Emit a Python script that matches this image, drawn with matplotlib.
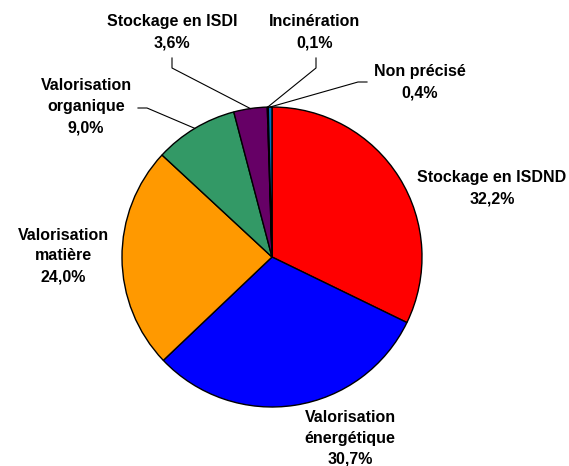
import numpy as np
import matplotlib
matplotlib.use("Agg")
import matplotlib.pyplot as plt

# Données
labels = ["Stockage en ISDND", "Valorisation\nénergétique", "Valorisation\nmatière",
          "Valorisation\norganique", "Stockage en ISDI", "Incinération", "Non précisé"]
values = [32.2, 30.7, 24.0, 9.0, 3.6, 0.1, 0.4]
colors = ["#FF0000", "#0000FF", "#FF9900", "#339966", "#660066", "#FFFFCC", "#0070C0"]

plt.rcParams['font.family'] = ['Liberation Sans', 'DejaVu Sans']

W, H = 569, 466
cx, cy, R = 272, 257, 150  # centre et rayon en pixels

fig = plt.figure(figsize=(W / 100, H / 100), dpi=100)
ax = fig.add_axes([0, 0, 1, 1])

wedges, _ = ax.pie(values, colors=colors, startangle=90, counterclock=False,
                   radius=1, wedgeprops=dict(edgecolor='black', linewidth=1))

ax.set_xlim(-cx / R, (W - cx) / R)
ax.set_ylim(-(H - cy) / R, cy / R)
ax.set_aspect('auto')
ax.axis('off')


def px(x, y):
    # pixels -> coordonnées du graphique
    return (x - cx) / R, (cy - y) / R


# positions des étiquettes (pixels) et coudes des lignes de rappel
text_pos = [(492, 188), (350, 438), (63, 256), (86, 107), (172, 32), (315, 32), (420, 82)]
leaders = {3: [(138, 108), (147, 108)],
           4: [(172, 58), (172, 68)],
           5: [(316, 58), (316, 68)],
           6: [(367, 82), (358, 82)]}

for i, (lab, v) in enumerate(zip(labels, values)):
    txt = lab + "\n" + f"{v:.1f}".replace(".", ",") + "%"
    x, y = px(*text_pos[i])
    ax.text(x, y, txt, ha='center', va='center', fontsize=11.5,
            fontweight='bold', linespacing=1.5, color='black')
    if i in leaders:
        w = wedges[i]
        ang = np.deg2rad((w.theta1 + w.theta2) / 2)
        pts = [px(*p) for p in leaders[i]] + [(np.cos(ang), np.sin(ang))]
        xs, ys = zip(*pts)
        ax.plot(xs, ys, color='black', linewidth=0.8)

fig.savefig("out.png", dpi=100)
